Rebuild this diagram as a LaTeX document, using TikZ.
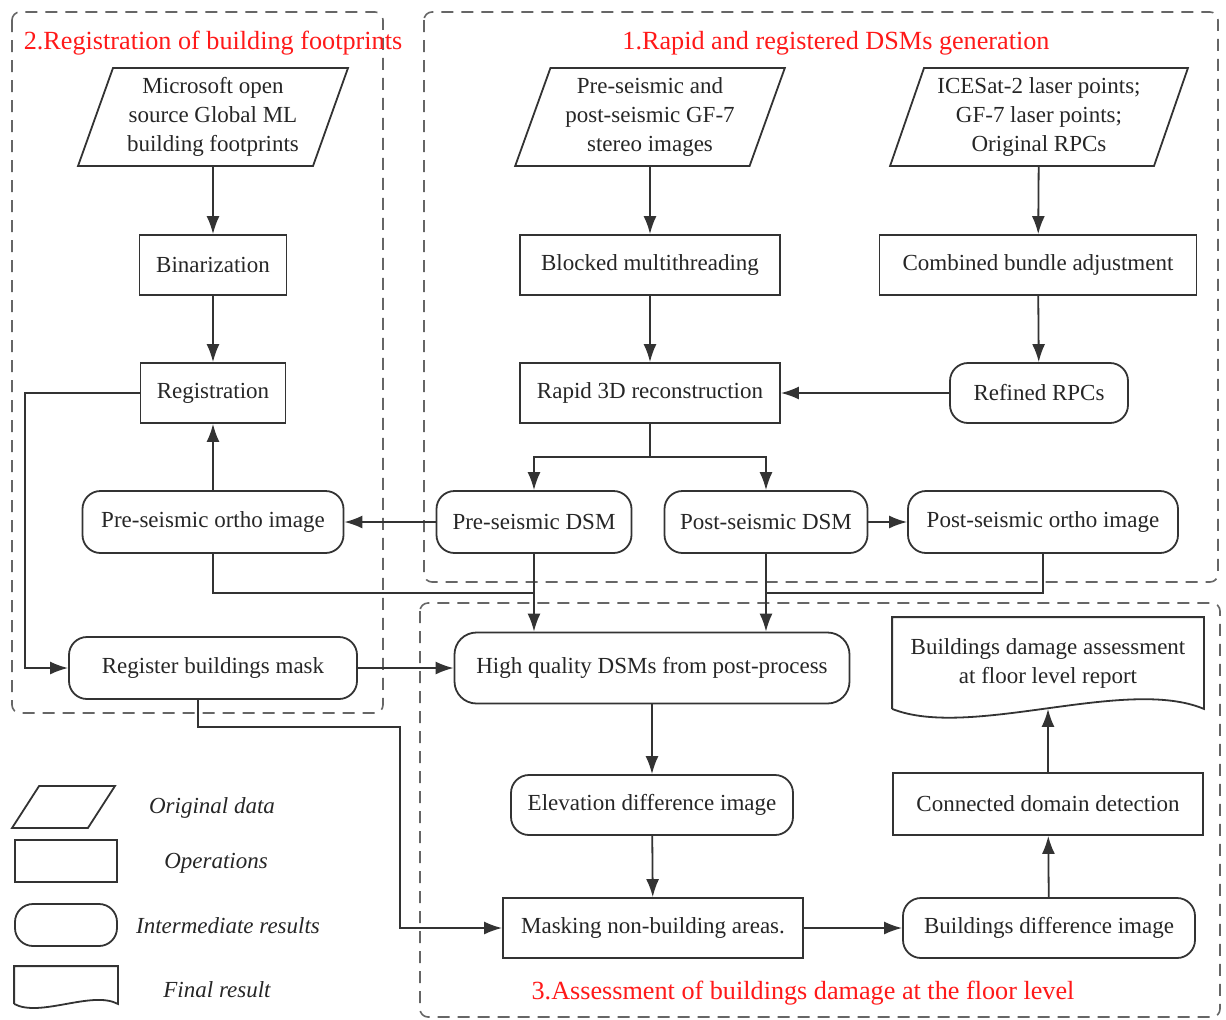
\documentclass[tikz,border=0pt]{standalone}
\usepackage{fontspec}
\setmainfont{Liberation Serif}
\usetikzlibrary{shapes.geometric,arrows.meta}
\tikzset{
  every node/.style={font=\fontsize{11.5}{14.5}\selectfont, text=black!85, line width=0.9pt},
  proc/.style={draw=black!80, rectangle, minimum height=30pt, align=center},
  inter/.style={draw=black!80, rectangle, rounded corners=9pt, minimum height=31pt, align=center},
  source/.style={draw=black!80, trapezium, trapezium left angle=72, trapezium right angle=108,
    trapezium stretches, minimum height=49pt, align=center, inner xsep=0pt},
  link/.style={-{Latex[length=9pt,width=6.5pt]}, line width=0.9pt, draw=black!80},
  wire/.style={line width=0.9pt, draw=black!80},
  phase/.style={draw=black!60, dash pattern=on 6pt off 4pt, rounded corners=4pt, line width=0.8pt},
  phasetitle/.style={text=red!90!white, font=\fontsize{13.1}{15.5}\selectfont},
  legendtext/.style={font=\fontsize{11.5}{14.5}\selectfont\itshape}
}
\begin{document}
\begin{tikzpicture}[x=0.5pt,y=-0.5pt]
  \useasboundingbox (0,0) rectangle (1226,1019);
  % dashed phases
  \draw[phase] (12,12) rectangle (383,713);
  \draw[phase] (424,12) rectangle (1218,582);
  \draw[phase] (420,603) rectangle (1220,1017);
  \node[phasetitle] (t2) at (213,43) {2.Registration of building footprints};
  \node[phasetitle] (t1) at (836,43) {1.Rapid and registered DSMs generation};
  \node[phasetitle] (t3) at (803,993) {3.Assessment of buildings damage at the floor level};

  % original data
  \node[source, minimum width=135pt] (ms) at (213,117) {Microsoft open\\source Global ML\\building footprints};
  \node[source, minimum width=135pt] (gf7) at (650,117) {Pre-seismic and\\post-seismic GF-7\\stereo images};
  \node[source, minimum width=149pt] (ice) at (1039,117) {ICESat-2 laser points;\\GF-7 laser points;\\Original RPCs};

  % operations and results
  \node[proc, minimum width=73.5pt] (bin) at (213,265) {Binarization};
  \node[proc, minimum width=130pt] (blocked) at (650,265) {Blocked multithreading};
  \node[proc, minimum width=158.5pt] (cba) at (1038,265) {Combined bundle adjustment};
  \node[proc, minimum width=72.5pt] (reg) at (213,393) {Registration};
  \node[proc, minimum width=130pt] (rapid) at (650,393) {Rapid 3D reconstruction};
  \node[inter, minimum width=89pt, minimum height=30pt] (refined) at (1039,393) {Refined RPCs};
  \node[inter, minimum width=130.5pt] (preortho) at (213,522) {Pre-seismic ortho image};
  \node[inter, minimum width=97.5pt] (predsm) at (534,522) {Pre-seismic DSM};
  \node[inter, minimum width=101.5pt] (postdsm) at (766,522) {Post-seismic DSM};
  \node[inter, minimum width=135pt] (postortho) at (1043,522) {Post-seismic ortho image};
  \node[inter, minimum width=144pt] (rbm) at (213,668) {Register buildings mask};
  \node[inter, minimum width=197.5pt, minimum height=35.5pt, rounded corners=11pt] (hq) at (652,668) {High quality DSMs from post-process};
  \node[inter, minimum width=141pt, minimum height=30pt] (elev) at (652,805) {Elevation difference image};
  \node[proc, minimum width=155pt, minimum height=31pt] (cdd) at (1048,804) {Connected domain detection};
  \node[proc, minimum width=150pt] (mask) at (653,928) {Masking non-building areas.};
  \node[inter, minimum width=146pt, minimum height=30pt] (bdi) at (1049,928) {Buildings difference image};
  \node[minimum width=155pt, minimum height=45pt, align=center] (report) at (1048,663) {Buildings damage assessment\\at floor level report};
  \draw[wire] (report.south west) -- (report.north west) -- (report.north east) -- (report.south east)
    .. controls (1126,676) and (970,740) .. (report.south west);

  % connectors
  \draw[link] (ms) -- (bin);
  \draw[link] (bin) -- (reg);
  \draw[link] (gf7) -- (blocked);
  \draw[link] (blocked) -- (rapid);
  \draw[link] (ice) -- (cba);
  \draw[link] (cba) -- (refined);
  \draw[link] (refined) -- (rapid);
  \coordinate (split) at (650,457);
  \draw[wire] (rapid.south) -- (split);
  \draw[link] (split) -| (predsm.north);
  \draw[link] (split) -| (postdsm.north);
  \draw[link] (predsm) -- (preortho);
  \draw[link] (postdsm) -- (postortho);
  \draw[link] (preortho) -- (reg);
  \coordinate (joinpre) at (534,593);
  \coordinate (joinpost) at (766,593);
  \draw[wire] (preortho.south) |- (joinpre);
  \draw[wire] (postortho.south) |- (joinpost);
  \draw[link] (predsm.south) -- (predsm.south |- hq.north);
  \draw[link] (postdsm.south) -- (postdsm.south |- hq.north);
  \draw[link] (reg.west) -- ++(-115,0) |- (rbm.west);
  \draw[link] (rbm) -- (hq);
  \coordinate (maskbend) at (400,727);
  \draw[link] ([xshift=-7.5pt]rbm.south) |- (maskbend) |- (mask.west);
  \draw[link] (hq) -- (elev);
  \draw[link] (elev) -- (mask);
  \draw[link] (mask) -- (bdi);
  \draw[link] (bdi) -- (cdd);
  \draw[link] (cdd) -- (report.south);

  % legend
  \node[draw=black!80, trapezium, trapezium left angle=61, trapezium right angle=119, trapezium stretches,
    minimum width=51.5pt, minimum height=21pt] (keydata) at (63.5,807) {};
  \node[draw=black!80, rectangle, minimum width=51pt, minimum height=21pt] (keyop) at (66,861) {};
  \node[draw=black!80, rectangle, rounded corners=9pt, minimum width=51pt, minimum height=21pt] (keyinter) at (66,925) {};
  \node[minimum width=51pt, minimum height=18pt] (keyfinal) at (66,985) {};
  \draw[wire] (keyfinal.south west) -- (keyfinal.north west) -- (keyfinal.north east) -- (keyfinal.south east)
    .. controls (92,990) and (40,1018) .. (keyfinal.south west);
  \node[legendtext] (ldata) at (212,808) {Original data};
  \node[legendtext] (lop) at (216,863) {Operations};
  \node[legendtext] (linter) at (228,926) {Intermediate results};
  \node[legendtext] (lfinal) at (217,990) {Final result};
\end{tikzpicture}
\end{document}
